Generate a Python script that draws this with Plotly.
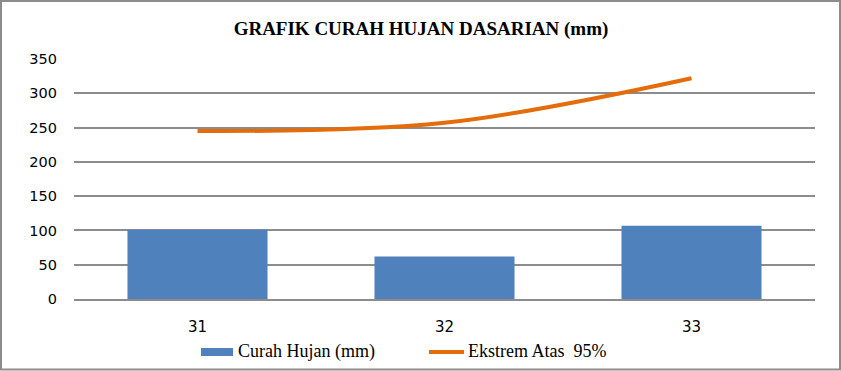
import plotly.graph_objects as go

categories = ["31", "32", "33"]
curah_hujan = [101, 62, 107]
ekstrem_atas = [245, 257, 322]
y_ticks = [0, 50, 100, 150, 200, 250, 300, 350]
series_names = ["Curah Hujan (mm)", "Ekstrem Atas  95%"]

W, H = 841, 371
ML, MR, MT, MB = 74, 26, 59, 72
pw, ph = W - ML - MR, H - MT - MB

def px_x(x):
    return (x - ML) / pw

def px_y(y):
    return (H - MB - y) / ph

BAR_COLOR = "#4F81BD"
LINE_COLOR = "#E46C0A"
GRID = "#8C8C8C"

fig = go.Figure()
fig.add_trace(go.Bar(
    x=categories, y=curah_hujan, name=series_names[0],
    marker=dict(color=BAR_COLOR, line=dict(width=0)), width=0.567,
))
fig.add_trace(go.Scatter(
    x=categories, y=ekstrem_atas, name=series_names[1], mode="lines",
    line=dict(color=LINE_COLOR, width=4, shape="spline", smoothing=1.0),
))

legend_font = dict(family="Liberation Serif", size=18, color="black")
shapes = [
    dict(type="rect", xref="paper", yref="paper",
         x0=px_x(1), x1=px_x(840), y0=px_y(369.5), y1=px_y(1),
         line=dict(color=GRID, width=2), fillcolor="rgba(0,0,0,0)", layer="below"),
    # legend swatches
    dict(type="rect", xref="paper", yref="paper",
         x0=px_x(201), x1=px_x(233), y0=px_y(356), y1=px_y(348),
         line=dict(width=0), fillcolor=BAR_COLOR),
    dict(type="line", xref="paper", yref="paper",
         x0=px_x(429), x1=px_x(464), y0=px_y(352), y1=px_y(352),
         line=dict(color=LINE_COLOR, width=4)),
]
annotations = [
    dict(text=series_names[0].replace("  ", "&nbsp; "), xref="paper", yref="paper",
         x=px_x(236), y=px_y(351), xanchor="left", yanchor="middle", showarrow=False, font=legend_font),
    dict(text=series_names[1].replace("  ", "&nbsp; "), xref="paper", yref="paper",
         x=px_x(466), y=px_y(351), xanchor="left", yanchor="middle", showarrow=False, font=legend_font),
]

fig.update_layout(
    width=W, height=H,
    margin=dict(l=ML, r=MR, t=MT, b=MB, autoexpand=False),
    paper_bgcolor="white", plot_bgcolor="white",
    title=dict(text="<b>GRAFIK CURAH HUJAN DASARIAN (mm)</b>", x=px_x(421), xref="paper", xanchor="center",
               y=1 - 28 / H, yanchor="middle",
               font=dict(family="Liberation Serif", size=19, color="black")),
    showlegend=False,
    bargap=0.433,
    shapes=shapes,
    annotations=annotations,
)
fig.update_xaxes(type="category", showgrid=False, showline=True, linecolor=GRID, linewidth=2,
                 ticks="", tickfont=dict(family="DejaVu Sans", size=15, color="black"),
                 ticklabelstandoff=13)
fig.update_yaxes(range=[0, 350], tickvals=y_ticks, showgrid=True, gridcolor=GRID, gridwidth=2,
                 zeroline=False, showline=False, ticks="",
                 tickfont=dict(family="DejaVu Sans", size=14.5, color="black"),
                 ticklabelstandoff=16)

fig.write_html("out.html", config={"displayModeBar": False},
               post_script="document.body.style.margin='0';document.body.style.overflow='hidden';")
